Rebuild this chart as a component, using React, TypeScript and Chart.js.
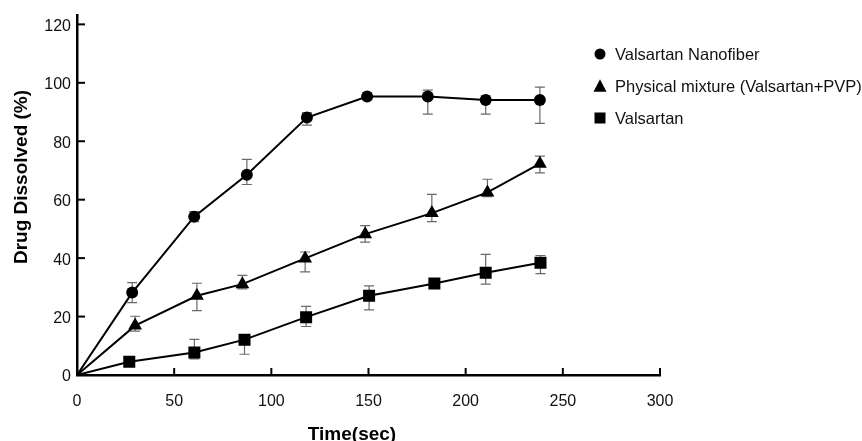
import React, { useEffect, useRef } from "react";
import { Chart, registerables } from "chart.js";

Chart.register(...registerables);

// ---- data ----
const nanoX = [28.4, 60.3, 87.4, 118.3, 149.3, 180.5, 210.3, 238.2];
const nanoY = [28.2, 54.2, 68.5, 88.1, 95.3, 95.3, 94.1, 94.1];
const nanoHi = [31.6, 55.9, 73.8, 89.8, 95.8, 97.5, 95.5, 98.5];
const nanoLo = [24.8, 52.5, 65.2, 85.5, 94.8, 89.3, 89.3, 86.1];

const physX = [29.9, 61.7, 85.1, 117.4, 148.3, 182.6, 211.2, 238.2];
const physY = [16.9, 27.1, 31.1, 39.9, 48.2, 55.4, 62.5, 72.3];
const physHi = [20.1, 31.4, 34.1, 42.1, 51.1, 61.8, 67.0, 74.9];
const physLo = [15.0, 22.0, 29.5, 35.3, 45.5, 52.5, 61.0, 69.2];

const valX = [26.9, 60.4, 86.2, 117.9, 150.3, 183.9, 210.3, 238.5];
const valY = [4.5, 7.7, 12.1, 19.8, 27.1, 31.3, 35.0, 38.4];
const valHi = [5.8, 12.2, 13.5, 23.5, 30.5, 32.3, 41.3, 40.9];
const valLo = [3.6, 5.5, 7.1, 16.6, 22.3, 30.3, 31.1, 34.7];

const seriesNames = [
  "Valsartan Nanofiber",
  "Physical mixture (Valsartan+PVP)",
  "Valsartan",
];

const xTicks = [50, 100, 150, 200, 250, 300];
const yTicks = [20, 40, 60, 80, 100, 120];

const xTitle = "Time(sec)";
const yTitle = "Drug Dissolved (%)";

const FONT = "'Liberation Sans', Arial, Helvetica, sans-serif";

const series = [
  { name: seriesNames[0], x: nanoX, y: nanoY, hi: nanoHi, lo: nanoLo, style: "circle", radius: 6 },
  { name: seriesNames[1], x: physX, y: physY, hi: physHi, lo: physLo, style: "triangle", radius: 8 },
  { name: seriesNames[2], x: valX, y: valY, hi: valHi, lo: valLo, style: "rect", radius: 8.5 },
];

function drawMarker(ctx: CanvasRenderingContext2D, style: string, cx: number, cy: number, size: number) {
  ctx.beginPath();
  if (style === "circle") {
    ctx.arc(cx, cy, size / 2, 0, Math.PI * 2);
  } else if (style === "triangle") {
    const h = size * 0.87;
    ctx.moveTo(cx, cy - h / 2 - 1);
    ctx.lineTo(cx + size / 2, cy + h / 2);
    ctx.lineTo(cx - size / 2, cy + h / 2);
    ctx.closePath();
  } else {
    ctx.rect(cx - size / 2, cy - size / 2, size, size);
  }
  ctx.fill();
}

const errorBarPlugin = {
  id: "errorBars",
  beforeDatasetsDraw(chart: any) {
    const { ctx } = chart;
    const xs = chart.scales.x;
    const ys = chart.scales.y;
    ctx.save();
    ctx.strokeStyle = "#6a6a6a";
    ctx.lineWidth = 1.2;
    series.forEach((s) => {
      s.x.forEach((xv, i) => {
        const px = xs.getPixelForValue(xv);
        const top = ys.getPixelForValue(s.hi[i]);
        const bot = ys.getPixelForValue(s.lo[i]);
        ctx.beginPath();
        ctx.moveTo(px, top);
        ctx.lineTo(px, bot);
        ctx.moveTo(px - 5, top);
        ctx.lineTo(px + 5, top);
        ctx.moveTo(px - 5, bot);
        ctx.lineTo(px + 5, bot);
        ctx.stroke();
      });
    });
    ctx.restore();
  },
};

const decorPlugin = {
  id: "decor",
  afterDraw(chart: any) {
    const { ctx, chartArea } = chart;
    const xs = chart.scales.x;
    const ys = chart.scales.y;
    ctx.save();
    // inward tick marks
    ctx.strokeStyle = "#000";
    ctx.lineWidth = 2;
    yTicks.forEach((v) => {
      const py = ys.getPixelForValue(v);
      ctx.beginPath();
      ctx.moveTo(chartArea.left, py);
      ctx.lineTo(chartArea.left + 8, py);
      ctx.stroke();
    });
    xTicks.forEach((v) => {
      const px = xs.getPixelForValue(v);
      ctx.beginPath();
      ctx.moveTo(px, chartArea.bottom);
      ctx.lineTo(px, chartArea.bottom - 7);
      ctx.stroke();
    });

    // axis titles
    ctx.fillStyle = "#000";
    ctx.font = `bold 19px ${FONT}`;
    ctx.textAlign = "center";
    ctx.textBaseline = "alphabetic";
    ctx.fillText(xTitle, 352, 440);

    ctx.save();
    ctx.translate(27, 177);
    ctx.rotate(-Math.PI / 2);
    ctx.textBaseline = "alphabetic";
    ctx.fillText(yTitle, 0, 0);
    ctx.restore();

    // legend
    const legendY = [54, 86, 118];
    const legendSize = [11, 13, 11];
    ctx.font = `16.5px ${FONT}`;
    ctx.textAlign = "left";
    ctx.textBaseline = "middle";
    series.forEach((s, i) => {
      ctx.fillStyle = "#000";
      drawMarker(ctx, s.style, 600, legendY[i], legendSize[i]);
      ctx.fillStyle = "#111";
      ctx.fillText(s.name, 615, legendY[i] + 1);
    });
    ctx.restore();
  },
};

export default function App() {
  const canvasRef = useRef<HTMLCanvasElement | null>(null);

  useEffect(() => {
    if (!canvasRef.current) return;
    const datasets = series.map((s) => ({
      label: s.name,
      data: [{ x: 0, y: 0 }, ...s.x.map((xv, i) => ({ x: xv, y: s.y[i] }))],
      borderColor: "#000",
      backgroundColor: "#000",
      borderWidth: 2,
      pointStyle: s.style,
      pointRadius: [0, ...s.x.map(() => s.radius)],
      pointBorderWidth: 0,
      pointBackgroundColor: "#000",
      tension: 0,
      showLine: true,
    }));

    const chart = new Chart(canvasRef.current, {
      type: "line",
      data: { datasets },
      options: {
        animation: false,
        responsive: false,
        devicePixelRatio: 1,
        layout: { padding: { top: 12, right: 202, left: 0, bottom: 0 } },
        plugins: {
          legend: { display: false },
          tooltip: { enabled: false },
        },
        scales: {
          x: {
            type: "linear",
            min: 0,
            max: 300,
            ticks: {
              stepSize: 50,
              includeBounds: false,
              color: "#111",
              font: { size: 16, family: FONT },
              padding: 17,
              maxRotation: 0,
            },
            grid: { drawOnChartArea: false, drawTicks: false },
            border: { display: true, color: "#000", width: 2.5 },
            afterFit(scale: any) {
              scale.height = 66;
            },
          },
          y: {
            type: "linear",
            min: 0,
            max: 123,
            ticks: {
              stepSize: 20,
              includeBounds: false,
              color: "#111",
              font: { size: 16, family: FONT },
              padding: 6,
              labelOffset: 2,
            },
            grid: { drawOnChartArea: false, drawTicks: false },
            border: { display: true, color: "#000", width: 2.5 },
            afterFit(scale: any) {
              scale.width = 77;
            },
          },
        },
      },
      plugins: [errorBarPlugin, decorPlugin],
    } as any);

    return () => chart.destroy();
  }, []);

  return (
    <div style={{ position: "absolute", left: 0, top: 0, width: 862, height: 441, background: "#fff" }}>
      <canvas ref={canvasRef} width={862} height={441} style={{ display: "block" }} />
    </div>
  );
}
